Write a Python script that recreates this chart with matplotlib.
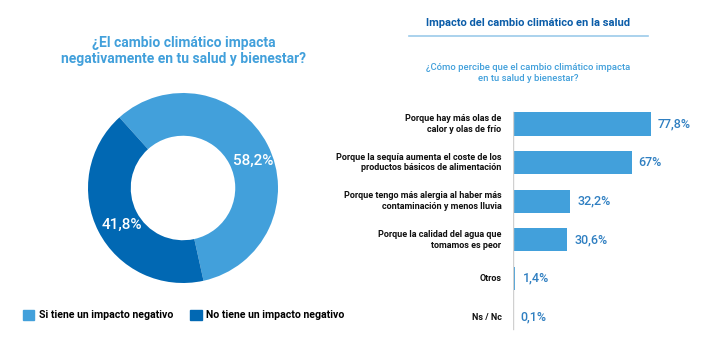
import numpy as np
import matplotlib.pyplot as plt
from matplotlib.patches import Patch

# donut data
donut_labels = ["Si tiene un impacto negativo", "No tiene un impacto negativo"]
donut_values = [58.2, 41.8]
donut_text = ["58,2%", "41,8%"]

# bar data
bar_labels = [
    "Porque hay más olas de\ncalor y olas de frío",
    "Porque la sequía aumenta el coste de los\nproductos básicos de alimentación",
    "Porque tengo más alergia al haber más\ncontaminación y menos lluvia",
    "Porque la calidad del agua que\ntomamos es peor",
    "Otros",
    "Ns / Nc",
]
bar_values = [77.8, 67, 32.2, 30.6, 1.4, 0.1]
bar_text = ["77,8%", "67%", "32,2%", "30,6%", "1,4%", "0,1%"]

LIGHT = "#42a0db"
DARK = "#0168b3"
plt.rcParams['font.family'] = ['Roboto', 'DejaVu Sans']

W, H = 715, 357
fig = plt.figure(figsize=(W / 100, H / 100), dpi=100)


def box(x0, y0, x1, y1):
    # pixel box (top-left origin) -> figure fraction
    return [x0 / W, 1 - y1 / H, (x1 - x0) / W, (y1 - y0) / H]


# ---- donut ----
ax1 = fig.add_axes(box(88, 93, 278, 283))
wedges, _ = ax1.pie(donut_values, colors=[LIGHT, DARK], startangle=132,
                    counterclock=False, radius=1,
                    wedgeprops=dict(width=0.45, edgecolor='none'))
ax1.set_xlim(-1, 1)
ax1.set_ylim(-1, 1)
ax1.set_aspect('equal')
# label spots picked to match the reference
label_pos = [(0.74, 0.29), (-0.64, -0.39)]
for (x, y), t in zip(label_pos, donut_text):
    ax1.text(x, y, t, color='white', fontsize=11, fontweight='medium',
             ha='center', va='center')

fig.text(184 / W, 1 - 51 / H,
         "¿El cambio climático impacta\nnegativamente en tu salud y bienestar?",
         color=LIGHT, fontsize=10, fontweight='bold', ha='center', va='center',
         linespacing=1.25)

fig.legend(handles=[Patch(color=LIGHT, label=donut_labels[0]),
                    Patch(color=DARK, label=donut_labels[1])],
           loc='center left', bbox_to_anchor=(13 / W, 1 - 315 / H), ncol=2,
           frameon=False, handlelength=1.1, handleheight=1.1,
           handletextpad=0.45, columnspacing=1.6, prop={'weight': 'bold', 'size': 7.6})

# ---- bars ----
ax2 = fig.add_axes(box(513, 104.7, 690, 336.3))
y = list(range(len(bar_values)))
ax2.barh(y, bar_values, height=0.6, color=LIGHT)
ax2.set_xlim(0, 100)
ax2.set_ylim(len(bar_values) - 0.5, -0.5)
ax2.axis('off')
ax2.axvline(0, ymin=0.03, ymax=0.97, color='#d0d0d0', lw=1)
for yi, v, t, lab in zip(y, bar_values, bar_text, bar_labels):
    ax2.text(v + 4, yi, t, color='#2f7fc1', fontsize=9, fontweight='medium',
             va='center', ha='left')
    ax2.text(-6.5, yi, lab, color='#111111', fontsize=6.5, va='center', ha='right',
             fontweight='bold', linespacing=1.25)

fig.text(528 / W, 1 - 23 / H, "Impacto del cambio climático en la salud",
         color='#0a5ca8', fontsize=8, fontweight='bold', ha='center', va='center')
fig.add_artist(plt.Line2D([409 / W, 648 / W], [1 - 36 / H, 1 - 36 / H],
                          color='#9ccbea', lw=1.2))
fig.text(528 / W, 1 - 73 / H,
         "¿Cómo percibe que el cambio climático impacta\nen tu salud y bienestar?",
         color=LIGHT, fontsize=6.8, fontweight='medium', ha='center', va='center',
         linespacing=1.35)

fig.savefig('out.png', dpi=100)
